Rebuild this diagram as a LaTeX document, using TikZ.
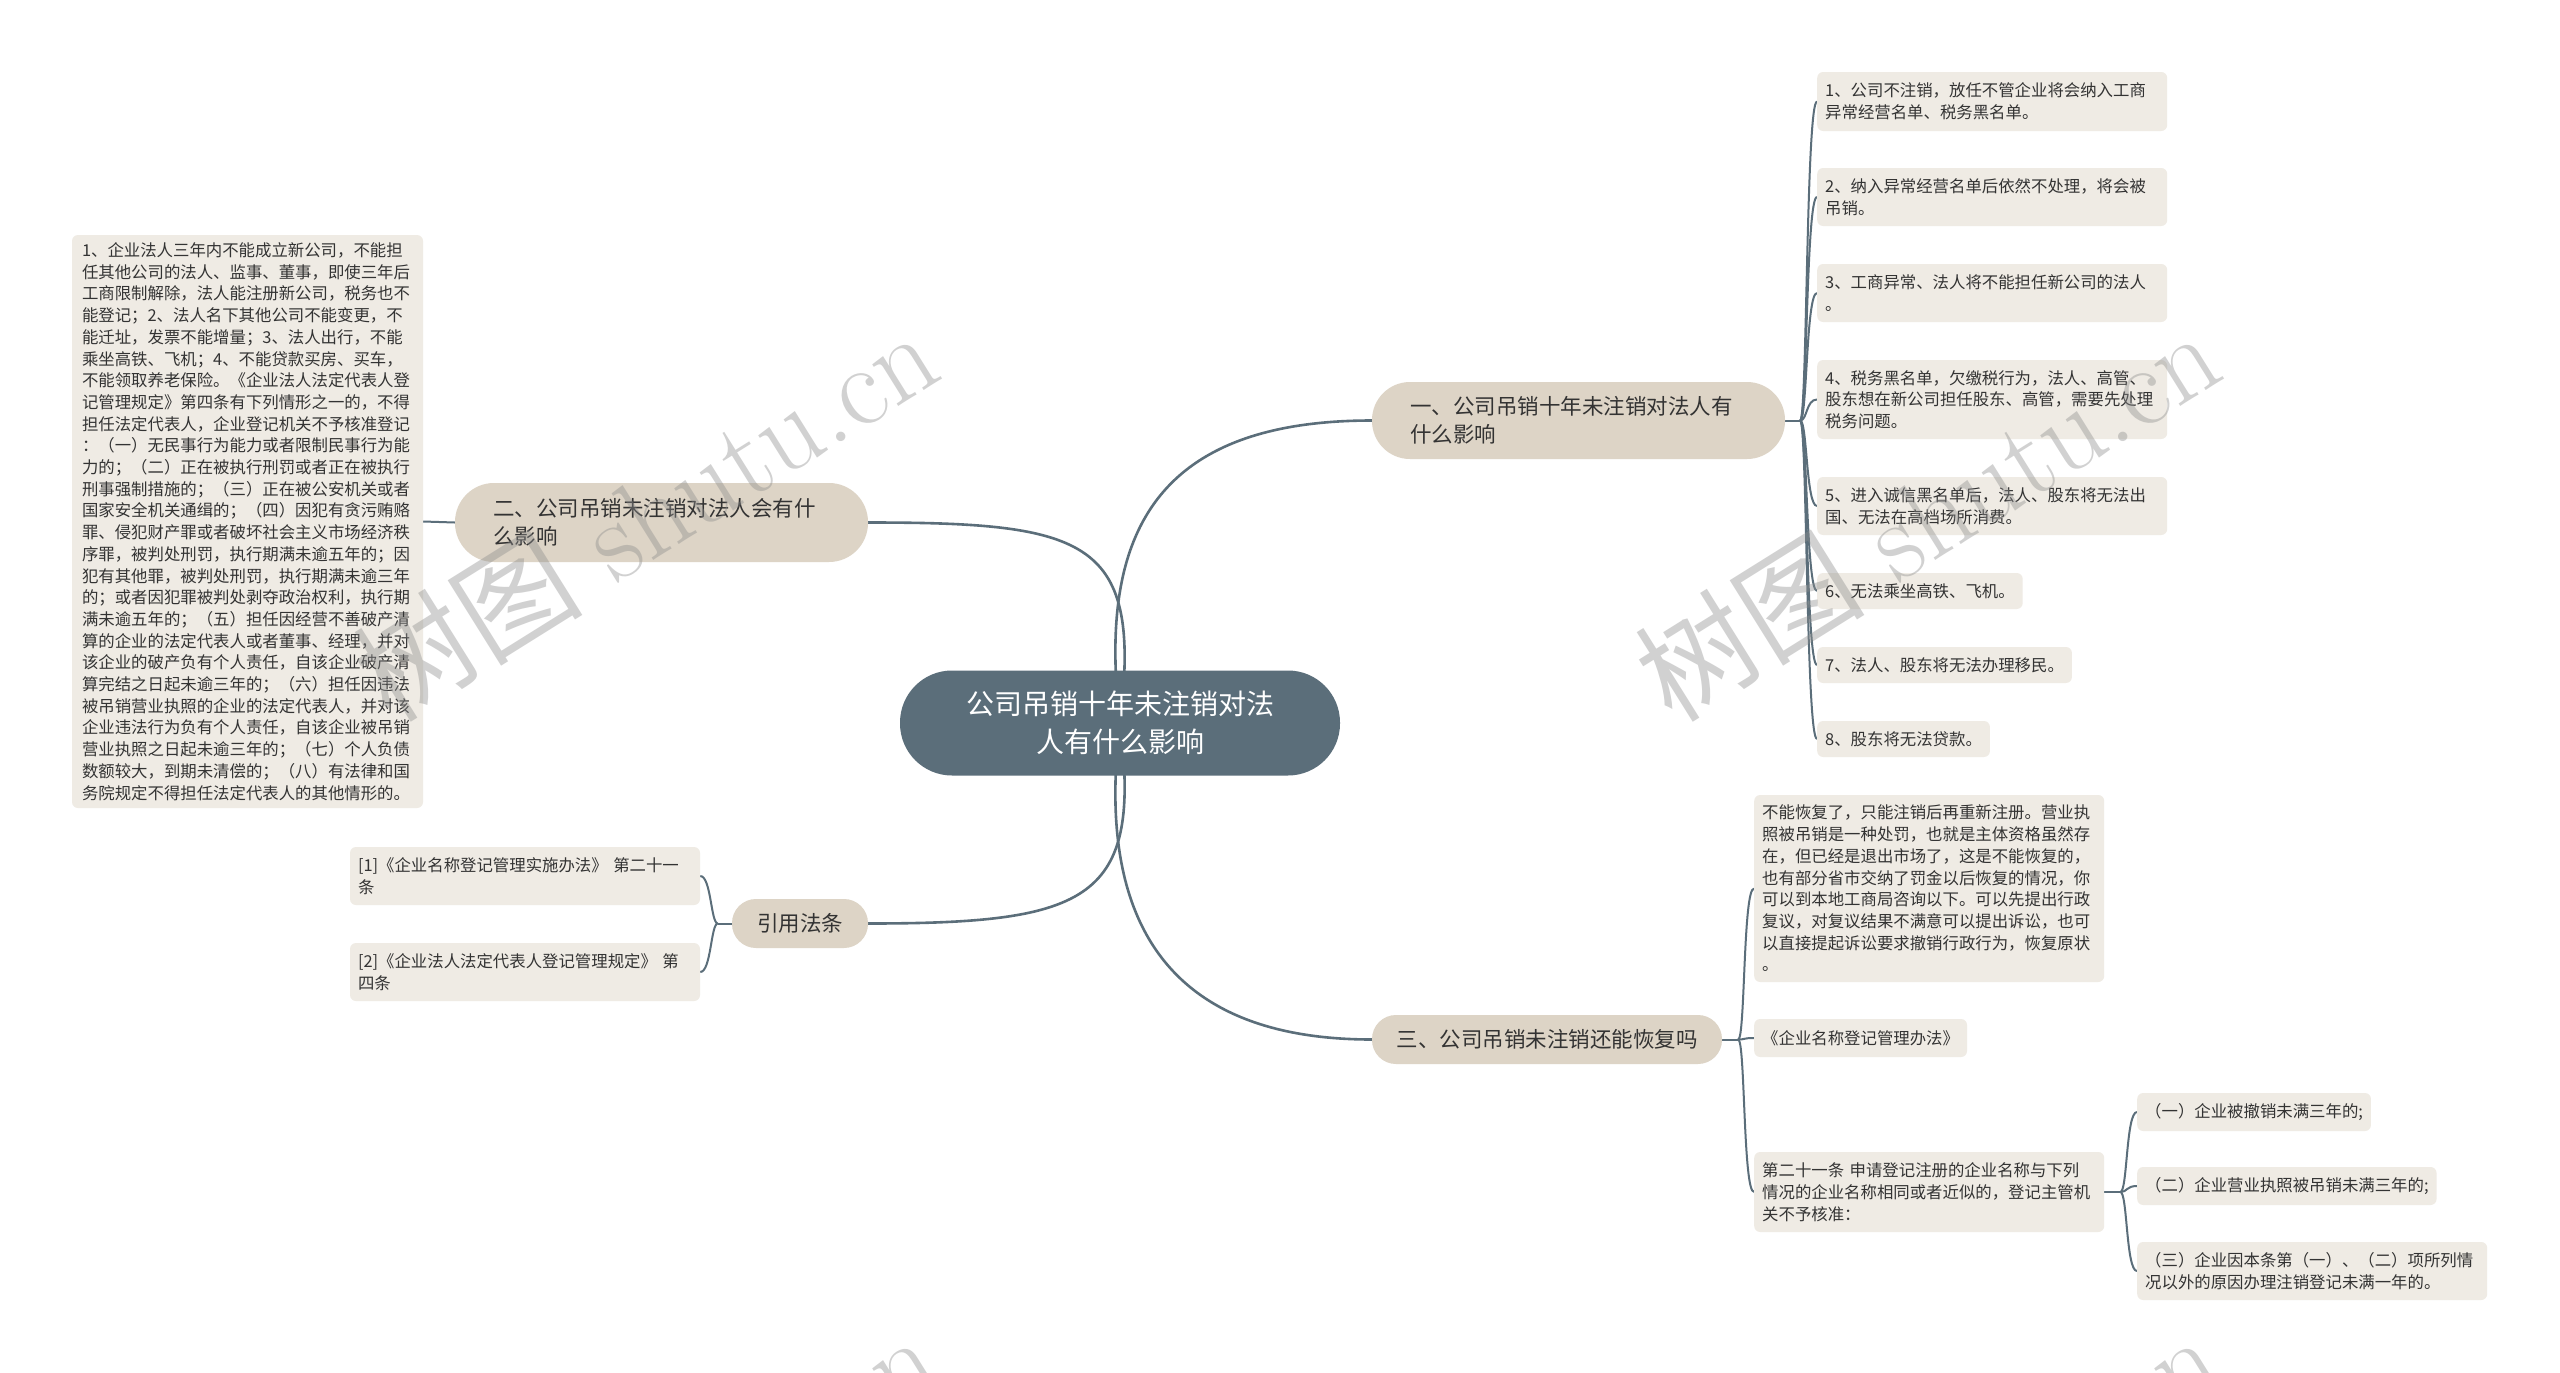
\documentclass[tikz,border=0pt]{standalone}
\usepackage{fontspec}
\newfontfamily\cjk{Noto Sans CJK SC}
\usetikzlibrary{backgrounds}
\definecolor{slate}{HTML}{5B6E7A}
\definecolor{branchfill}{HTML}{DDD4C6}
\definecolor{leaffill}{HTML}{EFEBE4}
\definecolor{txt}{HTML}{333333}
\begin{document}
\begin{tikzpicture}[x=1pt,y=-1pt,
  root/.style={fill=slate, text=white, rounded corners=52, minimum width=440, minimum height=105, align=center, font=\cjk\fontsize{28}{38}\selectfont, inner sep=0},
  branch/.style={fill=branchfill, text=txt, font=\cjk\fontsize{21.5}{28}\selectfont, inner xsep=38, inner ysep=0},
  leaf/.style={fill=leaffill, text=txt, rounded corners=6, font=\cjk\fontsize{16.4}{21.7}\selectfont, inner xsep=8, inner ysep=0, align=left},
  mainedge/.style={draw=slate, line width=2.6},
  subedge/.style={draw=slate, line width=2},
  wmark/.style={rotate=32, text=black!45, text opacity=0.4, font=\fontsize{115}{115}\selectfont}
]
\useasboundingbox (0,0) rectangle (2560,1373);

% root and branches
\node[root] (c) at (1120,723) {公司吊销十年未注销对法\\人有什么影响};
\node[branch, rounded corners=38, minimum height=77, text width=337, align=left] (b1) at (1578.5,420.5) {一、公司吊销十年未注销对法人有\\什么影响};
\node[branch, rounded corners=39, minimum height=79, text width=337, align=left] (b2) at (661.5,522.5) {二、公司吊销未注销对法人会有什\\么影响};
\node[branch, rounded corners=24, minimum height=49, minimum width=350, inner xsep=0] (b3) at (1547,1039.5) {三、公司吊销未注销还能恢复吗};
\node[branch, rounded corners=24, minimum height=49, minimum width=136, inner xsep=0] (b4) at (800,923.5) {引用法条};

% branch 1 leaves
\node[leaf, text width=334, minimum height=59, anchor=west] (l1) at (1817,101.5) {1、公司不注销，放任不管企业将会纳入工商\\异常经营名单、税务黑名单。};
\node[leaf, text width=334, minimum height=58, anchor=west] (l2) at (1817,197) {2、纳入异常经营名单后依然不处理，将会被\\吊销。};
\node[leaf, text width=334, minimum height=58, anchor=west] (l3) at (1817,293) {3、工商异常、法人将不能担任新公司的法人\\。};
\node[leaf, text width=334, minimum height=79, anchor=west] (l4) at (1817,399.5) {4、税务黑名单，欠缴税行为，法人、高管、\\股东想在新公司担任股东、高管，需要先处理\\税务问题。};
\node[leaf, text width=334, minimum height=58, anchor=west] (l5) at (1817,506) {5、进入诚信黑名单后，法人、股东将无法出\\国、无法在高档场所消费。};
\node[leaf, minimum height=36, anchor=west] (l6) at (1817,591) {6、无法乘坐高铁、飞机。};
\node[leaf, minimum height=36, anchor=west] (l7) at (1817,665) {7、法人、股东将无法办理移民。};
\node[leaf, minimum height=36, anchor=west] (l8) at (1817,739) {8、股东将无法贷款。};

% branch 2 leaf
\node[leaf, text width=331, inner xsep=10, minimum height=573] (L) at (247.5,521.5) {1、企业法人三年内不能成立新公司，不能担\\任其他公司的法人、监事、董事，即使三年后\\工商限制解除，法人能注册新公司，税务也不\\能登记；2、法人名下其他公司不能变更，不\\能迁址，发票不能增量；3、法人出行，不能\\乘坐高铁、飞机；4、不能贷款买房、买车，\\不能领取养老保险。《企业法人法定代表人登\\记管理规定》第四条有下列情形之一的，不得\\担任法定代表人，企业登记机关不予核准登记\\：（一）无民事行为能力或者限制民事行为能\\力的；（二）正在被执行刑罚或者正在被执行\\刑事强制措施的；（三）正在被公安机关或者\\国家安全机关通缉的；（四）因犯有贪污贿赂\\罪、侵犯财产罪或者破坏社会主义市场经济秩\\序罪，被判处刑罚，执行期满未逾五年的；因\\犯有其他罪，被判处刑罚，执行期满未逾三年\\的；或者因犯罪被判处剥夺政治权利，执行期\\满未逾五年的；（五）担任因经营不善破产清\\算的企业的法定代表人或者董事、经理，并对\\该企业的破产负有个人责任，自该企业破产清\\算完结之日起未逾三年的；（六）担任因违法\\被吊销营业执照的企业的法定代表人，并对该\\企业违法行为负有个人责任，自该企业被吊销\\营业执照之日起未逾三年的；（七）个人负债\\数额较大，到期未清偿的；（八）有法律和国\\务院规定不得担任法定代表人的其他情形的。};

% branch 3 leaves
\node[leaf, text width=334, minimum height=187, anchor=west] (t1) at (1754,888.5) {不能恢复了，只能注销后再重新注册。营业执\\照被吊销是一种处罚，也就是主体资格虽然存\\在，但已经是退出市场了，这是不能恢复的，\\也有部分省市交纳了罚金以后恢复的情况，你\\可以到本地工商局咨询以下。可以先提出行政\\复议，对复议结果不满意可以提出诉讼，也可\\以直接提起诉讼要求撤销行政行为，恢复原状\\。};
\node[leaf, minimum height=38, anchor=west] (t2) at (1754,1038) {《企业名称登记管理办法》};
\node[leaf, text width=334, minimum height=80, anchor=west] (t3) at (1754,1192) {第二十一条~申请登记注册的企业名称与下列\\情况的企业名称相同或者近似的，登记主管机\\关不予核准：};
\node[leaf, minimum height=38, anchor=west] (u1) at (2137,1112) {（一）企业被撤销未满三年的;};
\node[leaf, minimum height=38, anchor=west] (u2) at (2137,1186) {（二）企业营业执照被吊销未满三年的;};
\node[leaf, text width=334, minimum height=58, anchor=west] (u3) at (2137,1271) {（三）企业因本条第（一）、（二）项所列情\\况以外的原因办理注销登记未满一年的。};

% branch 4 leaves
\node[leaf, text width=334, minimum height=58] (r1) at (525,876) {[1]《企业名称登记管理实施办法》~第二十一\\条};
\node[leaf, text width=334, minimum height=58] (r2) at (525,972) {[2]《企业法人法定代表人登记管理规定》~第\\四条};

% connectors
\begin{scope}[on background layer]
\fill[white] (0,0) rectangle (2560,1373);
\draw[mainedge] (c.center) .. controls +(-22,-183) and +(-222,0) .. (b1.west);
\draw[mainedge] (c.center) .. controls +(22,-183) and +(222,0) .. (b2.east);
\draw[mainedge] (c.center) .. controls +(-22,177) and +(-222,0) .. (b3.west);
\draw[mainedge] (c.center) .. controls +(22,177) and +(222,0) .. (b4.east);

\draw[subedge] (b1.east) -- ++(15,0) coordinate (j1);
\foreach \n in {l1,l2,l3,l4,l5,l6,l7,l8}
  \draw[subedge] (j1) .. controls +(7,0) and +(-11,0) .. (\n.west);

\draw[subedge] (b2.west) -- (L.east);

\draw[subedge] (b3.east) -- ++(16,0) coordinate (j3);
\foreach \n in {t1,t2,t3}
  \draw[subedge] (j3) .. controls +(7,0) and +(-11,0) .. (\n.west);

\draw[subedge] (t3.east) -- ++(16,0) coordinate (j5);
\foreach \n in {u1,u2,u3}
  \draw[subedge] (j5) .. controls +(7,0) and +(-11,0) .. (\n.west);

\draw[subedge] (b4.west) -- ++(-14,0) coordinate (j4);
\foreach \n in {r1,r2}
  \draw[subedge] (j4) .. controls +(-7,0) and +(11,0) .. (\n.east);
\end{scope}

% watermarks
\begin{scope}
\clip (0,0) rectangle (2560,1373);
\foreach \wx/\wy in {645/514, 1927/514, 645/1518, 1927/1518}
  \node[wmark] at (\wx,\wy) {{\cjk 树图} shutu.cn};
\end{scope}
\end{tikzpicture}
\end{document}
